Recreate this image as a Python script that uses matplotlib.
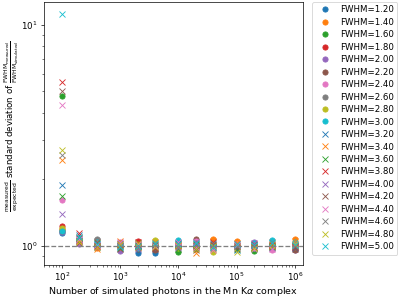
import numpy as np
import matplotlib
matplotlib.use("Agg")
import matplotlib.pyplot as plt

# number of simulated photons
photons = [100, 200, 400, 1000, 2000, 4000, 10000, 20000, 40000,
           100000, 200000, 400000, 1000000]

fwhm = [1.20, 1.40, 1.60, 1.80, 2.00, 2.20, 2.40, 2.60, 2.80, 3.00,
        3.20, 3.40, 3.60, 3.80, 4.00, 4.20, 4.40, 4.60, 4.80, 5.00]

# measured/expected std of FWHM ratio, one list per FWHM
fw_120 = [1.15, 1.03, 1.00, 0.99, 0.93, 0.93, 0.98, 0.99, 1.00, 0.97, 0.99, 1.02, 0.99]
fw_140 = [1.19, 1.05, 0.98, 1.02, 0.99, 1.01, 1.01, 1.02, 1.07, 1.05, 0.99, 1.00, 1.07]
fw_160 = [4.77, 1.04, 1.01, 0.99, 1.01, 0.99, 0.94, 1.00, 1.01, 0.99, 0.95, 1.01, 1.00]
fw_180 = [1.23, 1.06, 1.02, 1.00, 1.05, 1.02, 1.00, 0.99, 1.03, 1.01, 1.00, 0.99, 1.02]
fw_200 = [1.16, 1.02, 0.99, 0.95, 0.98, 1.00, 1.02, 1.01, 0.98, 1.00, 1.04, 1.00, 0.96]
fw_220 = [1.17, 1.08, 1.03, 1.01, 0.97, 0.96, 0.99, 1.08, 1.00, 0.98, 1.01, 0.97, 0.96]
fw_240 = [1.62, 1.04, 1.00, 1.04, 1.01, 1.03, 1.03, 1.05, 0.97, 1.02, 0.98, 0.96, 1.01]
fw_260 = [1.18, 1.07, 1.07, 1.01, 1.00, 0.99, 1.00, 1.03, 1.02, 0.99, 1.00, 1.03, 0.99]
fw_280 = [1.20, 1.06, 1.02, 0.99, 1.02, 1.06, 0.98, 0.97, 0.94, 1.01, 1.02, 1.01, 1.03]
fw_300 = [1.175, 1.09, 1.04, 1.03, 0.98, 1.02, 1.06, 1.01, 1.00, 0.99, 1.03, 1.06, 1.04]
fw_320 = [1.89, 1.12, 0.99, 1.00, 1.03, 0.98, 1.03, 0.98, 1.02, 0.96, 1.01, 1.00, 0.98]
fw_340 = [2.45, 1.05, 0.97, 1.05, 0.99, 1.04, 1.00, 0.93, 1.05, 1.03, 0.99, 1.02, 1.05]
fw_360 = [1.68, 1.09, 1.03, 0.98, 1.00, 1.01, 0.97, 1.02, 0.99, 0.97, 0.98, 0.99, 1.00]
fw_380 = [5.52, 1.15, 1.00, 1.02, 1.04, 0.98, 1.01, 1.00, 1.04, 1.00, 1.02, 1.01, 0.99]
fw_400 = [1.39, 1.07, 1.02, 1.03, 0.97, 1.00, 0.99, 1.04, 0.98, 1.02, 1.03, 0.98, 1.01]
fw_420 = [5.03, 1.03, 1.04, 0.97, 1.01, 0.97, 1.02, 0.96, 1.01, 0.98, 0.99, 1.00, 0.97]
fw_440 = [4.34, 1.08, 1.01, 1.04, 1.02, 1.00, 1.04, 0.99, 0.96, 1.01, 0.97, 0.97, 1.02]
fw_460 = [2.58, 1.10, 1.05, 1.00, 0.98, 1.02, 0.98, 1.01, 1.03, 1.00, 1.01, 1.04, 1.00]
fw_480 = [2.72, 1.04, 0.99, 1.02, 1.03, 0.99, 1.01, 0.97, 1.00, 0.94, 0.98, 1.00, 1.02]
fw_500 = [11.2, 1.10, 1.02, 0.99, 1.00, 1.03, 1.02, 1.03, 0.99, 1.02, 1.01, 1.03, 1.01]

series = [fw_120, fw_140, fw_160, fw_180, fw_200, fw_220, fw_240, fw_260,
          fw_280, fw_300, fw_320, fw_340, fw_360, fw_380, fw_400, fw_420,
          fw_440, fw_460, fw_480, fw_500]

fig = plt.figure(figsize=(6.4, 4.765), dpi=62.35)
ax = fig.add_subplot(111)
fig.subplots_adjust(left=0.11, right=0.759, top=0.993, bottom=0.108)

colors = plt.rcParams['axes.prop_cycle'].by_key()['color']
for i, (fw, vals) in enumerate(zip(fwhm, series)):
    marker = 'o' if i < 10 else 'x'
    ax.plot(photons, vals, marker, color=colors[i % 10], label='FWHM=%.2f' % fw)

ax.axhline(1, color='gray', ls='--')
ax.set_xscale('log')
ax.set_yscale('log')
ax.set_xlim(49, 1.37e6)
ax.set_xlabel(r'Number of simulated photons in the Mn K$\alpha$ complex',
              fontsize=11, labelpad=2)
ax.set_ylabel(r'$\frac{\rm measured}{\rm expected}$ standard deviation of '
              r'$\frac{\rm FWHM_{measured}}{\rm FWHM_{simulated}}$')
ax.yaxis.set_label_coords(-0.09, 0.53)
ax.legend(loc='upper left', bbox_to_anchor=(1.02, 1.017), labelspacing=0.4)

fig.savefig('out.png', dpi=62.35)
